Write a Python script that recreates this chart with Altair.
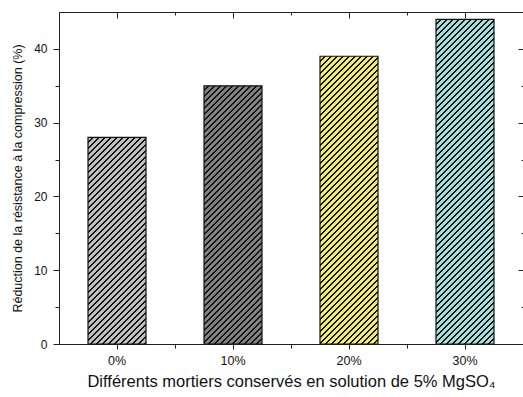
import altair as alt
import pandas as pd

# Mortar groups and reduction in compressive strength (%)
categories = ["0%", "10%", "20%", "30%"]
reduction = [28, 35, 39, 44]
fills = ["#c0c0c0", "#808080", "#f2ec6c", "#a6dedb"]

df = pd.DataFrame({"cat": categories, "val": reduction})

W, H = 464, 332
Y_MAX = 45
STEP = W / (len(categories) - 0.5 + 2 * 0.25)
BAND = STEP * 0.5
FONT = "Liberation Sans"


def hatch(color, bar_h, period=6.0, dark=0.33):
    """Diagonal '///' hatching as a linear gradient over the bar's bounding box."""
    w, h = BAND, bar_h
    span = w + h
    a = span / (w * w + h * h)
    p = period / span
    stops = []
    t = 0.0
    while t < 1.0:
        s1 = min(t + (1 - dark) * p, 1.0)
        s2 = min(t + p, 1.0)
        stops += [
            alt.GradientStop(color=color, offset=t),
            alt.GradientStop(color=color, offset=s1),
            alt.GradientStop(color="#111111", offset=s1),
            alt.GradientStop(color="#111111", offset=s2),
        ]
        t = s2
    return alt.LinearGradient(
        gradient="linear", stops=stops, x1=0, y1=0, x2=w * a, y2=h * a
    )


x_scale = alt.Scale(domain=categories, paddingInner=0.5, paddingOuter=0.25)
y_scale = alt.Scale(domain=[0, Y_MAX], nice=False)

tick_color = "#222222"
major_y = [0, 10, 20, 30, 40]
minor_y = [5, 15, 25, 35]

x_axes = [
    alt.Axis(orient="bottom", title="Différents mortiers conservés en solution de 5% MgSO₄",
             tickSize=5, labelPadding=5, labelFontSize=12.5, titleFontSize=16.5,
             titlePadding=7, domainColor=tick_color, tickColor=tick_color,
             labelColor="#111111", titleColor="#111111", labelAngle=0),
    alt.Axis(orient="bottom", title=None, labels=False, domain=False, tickSize=4,
             tickOffset=STEP / 2, tickColor=tick_color),
    alt.Axis(orient="top", title=None, labels=False, domain=False, tickSize=6,
             offset=-6, tickColor=tick_color),
    alt.Axis(orient="top", title=None, labels=False, domain=False, tickSize=3,
             offset=-3, tickOffset=STEP / 2, tickColor=tick_color),
]
y_axes = [
    alt.Axis(orient="left", title="Réduction de la résistance à la compression (%)",
             values=major_y, tickSize=6, labelPadding=6, labelFontSize=12,
             titleFontSize=12.5, titlePadding=9, domainColor=tick_color,
             tickColor=tick_color, labelColor="#111111", titleColor="#111111",
             grid=False),
    alt.Axis(orient="left", title=None, values=minor_y, labels=False, domain=False,
             tickSize=4, tickColor=tick_color, grid=False),
    alt.Axis(orient="right", title=None, values=major_y, labels=False, domain=False,
             tickSize=5, offset=-5, tickColor=tick_color, grid=False),
    alt.Axis(orient="right", title=None, values=minor_y, labels=False, domain=False,
             tickSize=2, offset=-2, tickColor=tick_color, grid=False),
]

layers = []
for i, (cat, val, col) in enumerate(zip(categories, reduction, fills)):
    bar_h = val / Y_MAX * H
    layers.append(
        alt.Chart(df)
        .transform_filter(alt.datum.cat == cat)
        .mark_bar(fill=hatch(col, bar_h), stroke="#111111", strokeWidth=1.2)
        .encode(
            x=alt.X("cat:N", scale=x_scale, axis=x_axes[i], sort=categories),
            y=alt.Y("val:Q", scale=y_scale, axis=y_axes[i]),
        )
    )

chart = (
    alt.layer(*layers)
    .resolve_axis(x="independent", y="independent")
    .properties(
        width=W,
        height=H,
        autosize=alt.AutoSizeParams(type="none"),
        padding={"left": 59, "top": 12, "right": 0, "bottom": 53},
        background="white",
    )
    .configure_view(stroke="#222222", strokeWidth=1)
    .configure_axis(labelFont=FONT, titleFont=FONT, titleFontWeight="normal")
)

chart.save("out.html", embed_options={"renderer": "svg", "actions": False})
